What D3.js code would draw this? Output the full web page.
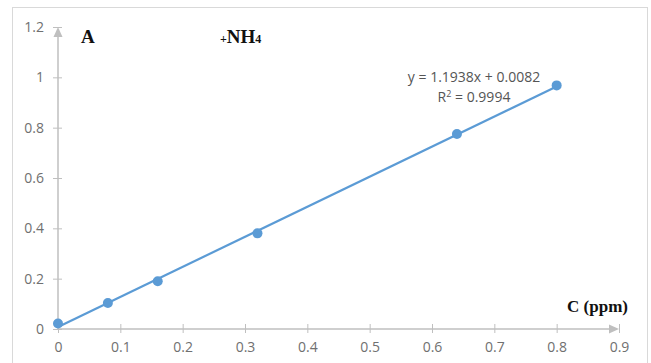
<!DOCTYPE html>
<head>
  <meta charset="utf-8">
  <style>
  body{
    margin:0;
    background:white;
  }
  .tick text{
    font-family: "Open Sans", sans-serif;
    font-size: 14px;
    fill: #707070;
  }
  .serif{
    font-family: "Liberation Serif", "DejaVu Serif", serif;
    font-weight: bold;
    fill: #111;
  }
  .eq{
    font-family: "Open Sans", sans-serif;
    font-size: 14px;
    fill: #555;
    text-anchor: middle;
  }
  </style>
</head>
<body>
  <svg width="651" height="363"></svg>
  <script src="https://d3js.org/d3.v7.min.js"></script>
  <script>

  // concentrations (ppm) and absorbance readings
  var conc = [0, 0.08, 0.16, 0.32, 0.64, 0.8];
  var absorb = [0.022, 0.103, 0.19, 0.38, 0.775, 0.968];
  // trendline as given on the chart
  var trend = {slope: 1.1938, intercept: 0.0082};
  var xTicks = [0, 0.1, 0.2, 0.3, 0.4, 0.5, 0.6, 0.7, 0.8, 0.9];
  var yTicks = [0, 0.2, 0.4, 0.6, 0.8, 1, 1.2];

  var svg = d3.select("svg");

  // outer frame
  svg.append("rect")
      .attr("x", 12.5).attr("y", 7.5)
      .attr("width", 635).attr("height", 370)
      .attr("fill", "none")
      .attr("stroke", "#d9d9d9");

  var x = d3.scaleLinear().domain([0, 0.9]).range([58, 619]),
      y = d3.scaleLinear().domain([0, 1.2]).range([329, 27]);

  var axisColor = "#bfbfbf";

  var xAxis = svg.append("g")
      .attr("transform", "translate(0," + y(0) + ")")
      .call(d3.axisBottom(x).tickValues(xTicks).tickSize(0).tickPadding(13)
        .tickFormat(function(d) { return d; }));
  xAxis.select(".domain").remove();
  xAxis.selectAll(".tick line").remove();
  xAxis.selectAll(".tick").append("line")
      .attr("y1", -5).attr("y2", 4).attr("stroke", axisColor);

  var yAxis = svg.append("g")
      .attr("transform", "translate(" + x(0) + ",0)")
      .call(d3.axisLeft(y).tickValues(yTicks).tickSize(0).tickPadding(14)
        .tickFormat(function(d) { return d; }));
  yAxis.select(".domain").remove();
  yAxis.selectAll(".tick line").remove();
  yAxis.selectAll(".tick").append("line")
      .attr("x1", -5).attr("x2", 4).attr("stroke", axisColor);

  // axis lines with arrow heads
  svg.append("line")
      .attr("x1", x(0)).attr("x2", x(0.9) - 6)
      .attr("y1", y(0)).attr("y2", y(0))
      .attr("stroke", axisColor).attr("stroke-width", 1.5);
  svg.append("path")
      .attr("d", "M" + x(0.9) + "," + y(0) + "l-10,-4.5l0,9z")
      .attr("fill", axisColor);
  svg.append("line")
      .attr("x1", x(0)).attr("x2", x(0))
      .attr("y1", y(0)).attr("y2", y(1.2) + 6)
      .attr("stroke", axisColor).attr("stroke-width", 1.5);
  svg.append("path")
      .attr("d", "M" + x(0) + "," + y(1.2) + "l-4.5,10l9,0z")
      .attr("fill", axisColor);

  // trendline over the data range
  var xs = d3.extent(conc);
  svg.append("line")
      .attr("x1", x(xs[0])).attr("y1", y(trend.slope * xs[0] + trend.intercept))
      .attr("x2", x(xs[1])).attr("y2", y(trend.slope * xs[1] + trend.intercept))
      .attr("stroke", "#5b9bd5").attr("stroke-width", 2.2);

  svg.selectAll("circle.pt")
    .data(conc)
    .enter().append("circle")
      .attr("class", "pt")
      .attr("cx", function(d) { return x(d); })
      .attr("cy", function(d, i) { return y(absorb[i]); })
      .attr("r", 5)
      .attr("fill", "#5b9bd5");

  // labels
  svg.append("text").attr("class", "serif")
      .attr("x", 81).attr("y", 43).style("font-size", "19px").text("A");

  var nh = svg.append("text").attr("class", "serif")
      .attr("x", 220).attr("y", 43).style("font-size", "19px");
  nh.append("tspan").style("font-size", "12px").text("+");
  nh.append("tspan").text("NH");
  nh.append("tspan").style("font-size", "12px").text("4");

  svg.append("text").attr("class", "serif")
      .attr("x", 628).attr("y", 312).attr("text-anchor", "end")
      .style("font-size", "17px").text("C (ppm)");

  svg.append("text").attr("class", "eq")
      .attr("x", 474).attr("y", 82)
      .text("y = " + trend.slope + "x + " + trend.intercept);
  var r2 = svg.append("text").attr("class", "eq")
      .attr("x", 474).attr("y", 102);
  r2.append("tspan").text("R");
  r2.append("tspan").attr("dy", -5).style("font-size", "9px").text("2");
  r2.append("tspan").attr("dy", 5).text(" = 0.9994");

  </script>
</body>
